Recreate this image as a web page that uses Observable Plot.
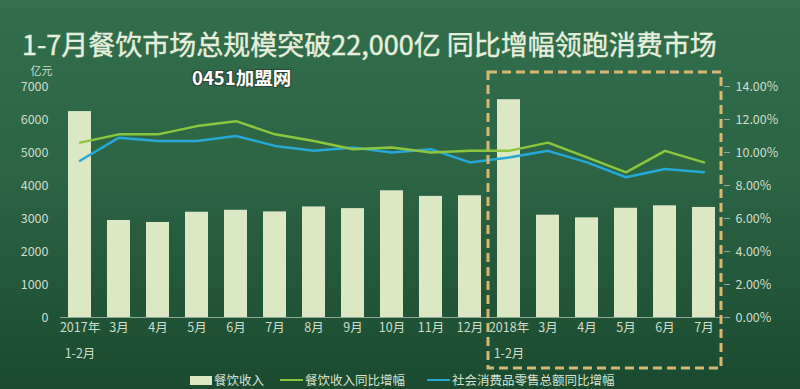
<!DOCTYPE html>
<html><head><meta charset="utf-8">
<script src="https://cdn.jsdelivr.net/npm/d3@7"></script>
<script src="https://cdn.jsdelivr.net/npm/@observablehq/plot@0.6"></script>
<style>
html,body{margin:0;padding:0;}
body{width:800px;height:389px;overflow:hidden;position:relative;
  background:linear-gradient(180deg,#336f4c 0%,#2c6444 45%,#1b4a2f 100%);
  font-family:"Noto Sans CJK SC","Noto Sans",sans-serif;}
#title{position:absolute;left:22px;top:28px;font-size:27px;line-height:32px;color:#e6efdd;font-weight:400;white-space:nowrap;-webkit-text-stroke:0.4px #e6efdd;}
#watermark{position:absolute;left:192px;top:67px;font-size:18.5px;line-height:20px;font-weight:bold;color:#ffffff;
  text-shadow:-1px -1px 0 #2b4a36,1px -1px 0 #2b4a36,-1px 1px 0 #2b4a36,1px 1px 0 #2b4a36,0 0 3px #555;}
#chart{position:absolute;left:0;top:62px;}
#legend{position:absolute;left:0;top:371px;width:800px;height:18px;font-size:12.5px;color:#d6e2cf;}
.li{position:absolute;top:0;height:18px;line-height:18px;display:flex;align-items:center;white-space:nowrap;}
.sw{display:inline-block;margin-right:2px;}
</style></head>
<body>
<div id="title">1-7月餐饮市场总规模突破22,000亿 同比增幅领跑消费市场</div>
<div id="chart"></div>
<div id="watermark">0451加盟网</div>
<div id="legend"></div>
<script>
const labels = ["2017年\n1-2月","3月","4月","5月","6月","7月","8月","9月","10月","11月","12月","2018年\n1-2月","3月","4月","5月","6月","7月"];
const revenue = [6240,2940,2880,3190,3250,3200,3350,3300,3840,3670,3690,6600,3100,3020,3310,3385,3335];
const cateringGrowth = [10.6,11.1,11.1,11.6,11.9,11.1,10.7,10.2,10.3,10.0,10.1,10.1,10.6,9.7,8.8,10.1,9.4];
const retailGrowth = [9.5,10.9,10.7,10.7,11.0,10.4,10.1,10.3,10.0,10.2,9.4,9.7,10.1,9.4,8.5,9.0,8.8];
const leftTicks = [0,1000,2000,3000,4000,5000,6000,7000];
const rightTicks = [0,2,4,6,8,10,12,14];
const seriesNames = ["餐饮收入","餐饮收入同比增幅","社会消费品零售总额同比增幅"];
const unitLabel = "亿元";

const barColor = "#dce8c3", greenColor = "#8cc63f", blueColor = "#25a8d8", boxColor = "#d6b872";
const textColor = "#cfdcc9";
const ratio = 7000 / 14; // right axis % -> left axis scale

const rows = labels.map((l, i) => ({i, label: l, rev: revenue[i], g: cateringGrowth[i] * ratio, r: retailGrowth[i] * ratio}));

const chart = Plot.plot({
  width: 800, height: 308,
  marginLeft: 60, marginRight: 77, marginTop: 24, marginBottom: 53,
  style: {background: "transparent", color: textColor, fontFamily: "'Noto Sans CJK SC', 'Noto Sans', sans-serif", fontSize: "12.5px"},
  x: {type: "band", domain: d3.range(labels.length), paddingInner: 0.41, paddingOuter: 0.2},
  y: {domain: [0, 7000]},
  marks: [
    Plot.barY(rows, {x: "i", y: "rev", fill: barColor}),
    Plot.ruleY([0], {stroke: "#8fa795", strokeWidth: 1}),
    Plot.line(rows, {x: "i", y: "r", stroke: blueColor, strokeWidth: 2.5}),
    Plot.line(rows, {x: "i", y: "g", stroke: greenColor, strokeWidth: 2.5}),
    Plot.axisY(leftTicks, {anchor: "left", tickSize: 0, tickPadding: 12, label: null, fill: textColor, tickFormat: d => String(d)}),
    Plot.axisY(rightTicks.map(d => d * ratio), {anchor: "right", tickSize: 6, tickPadding: 6, label: null, stroke: "#93a897",
      tickFormat: d => (d / ratio).toFixed(2) + "%", fill: textColor}),
    Plot.axisX({tickSize: 0, tickPadding: -4, label: null, tickFormat: i => labels[i], lineHeight: 2.1, fill: textColor}),
    Plot.text([unitLabel], {frameAnchor: "top-left", dx: -30, dy: -19, fill: textColor, fontSize: 11})
  ]
});

// dashed highlight box around 2018 bands, positioned from the x scale
const xs = chart.scale("x");
const gap = xs.step - xs.bandwidth;
const boxLeft = xs.apply(11) - gap / 2 - 1;
const boxRight = xs.range[1] - 2;
const ys = chart.scale("y");
const boxTop = ys.apply(7000) - 14, boxBottom = ys.apply(0) + 51;
d3.select(chart).append("rect")
  .attr("x", boxLeft).attr("y", boxTop)
  .attr("width", boxRight - boxLeft).attr("height", boxBottom - boxTop)
  .attr("fill", "none").attr("stroke", boxColor).attr("stroke-width", 3)
  .attr("stroke-dasharray", "9,5");

document.getElementById("chart").appendChild(chart);

// legend
const legend = d3.select("#legend");
const items = [
  {left: 190, name: seriesNames[0], sw: s => s.style("width", "22px").style("height", "9px").style("background", barColor)},
  {left: 280, name: seriesNames[1], sw: s => s.style("width", "23px").style("height", "2px").style("background", greenColor)},
  {left: 427, name: seriesNames[2], sw: s => s.style("width", "23px").style("height", "2px").style("background", blueColor)}
];
items.forEach(it => {
  const d = legend.append("div").attr("class", "li").style("left", it.left + "px");
  it.sw(d.append("span").attr("class", "sw"));
  d.append("span").text(it.name);
});
</script>
</body></html>
